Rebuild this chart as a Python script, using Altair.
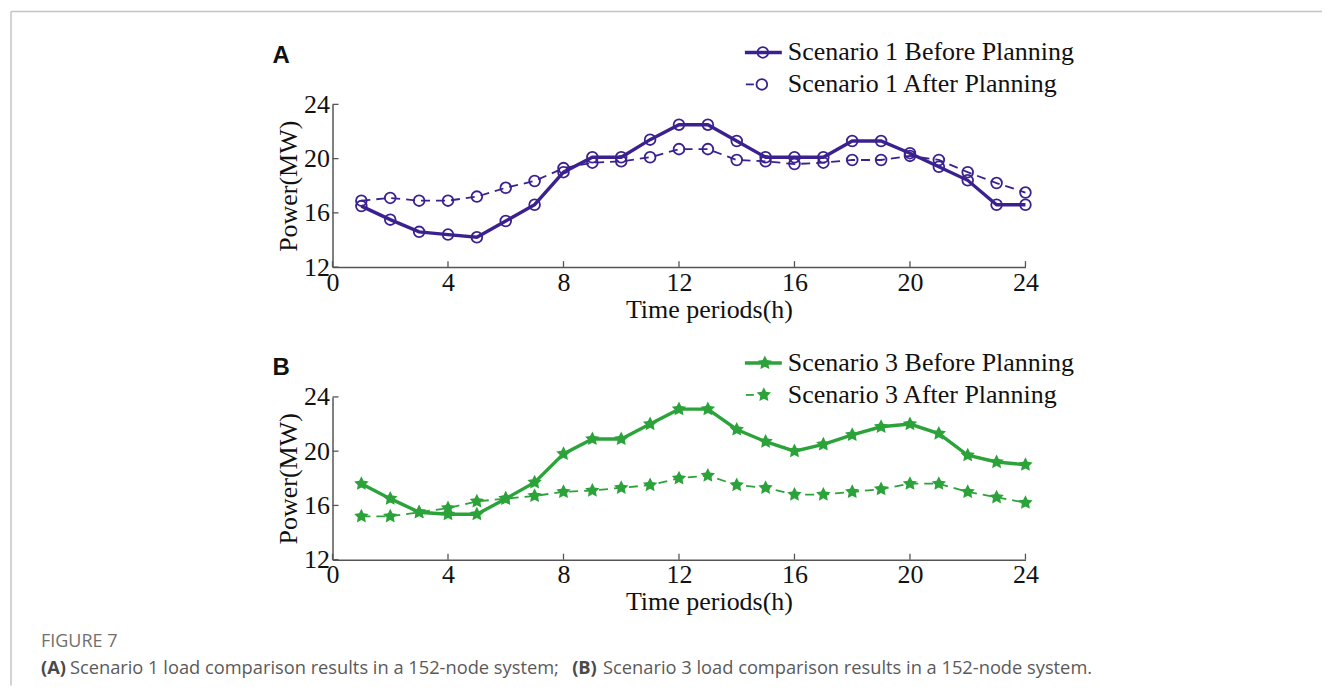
import math
import altair as alt
import pandas as pd

# ---------------- data ----------------
hours = list(range(1, 25))
a_before = [16.5, 15.5, 14.6, 14.4, 14.2, 15.4, 16.6, 19.0, 20.1, 20.1, 21.4, 22.5,
            22.5, 21.3, 20.1, 20.1, 20.1, 21.3, 21.3, 20.4, 19.4, 18.4, 16.6, 16.6]
a_after = [16.9, 17.1, 16.9, 16.9, 17.2, 17.85, 18.35, 19.3, 19.7, 19.8, 20.1, 20.7,
           20.7, 19.9, 19.8, 19.6, 19.7, 19.9, 19.9, 20.2, 19.9, 19.0, 18.2, 17.5]
b_before = [17.6, 16.5, 15.5, 15.35, 15.35, 16.5, 17.7, 19.8, 20.9, 20.9, 22.0, 23.1,
            23.1, 21.6, 20.7, 20.0, 20.5, 21.2, 21.8, 22.0, 21.3, 19.7, 19.2, 19.0]
b_after = [15.2, 15.2, 15.5, 15.8, 16.3, 16.5, 16.7, 17.0, 17.1, 17.3, 17.5, 18.0,
           18.2, 17.5, 17.3, 16.8, 16.8, 17.0, 17.2, 17.6, 17.6, 17.0, 16.6, 16.2]
names_a = ["Scenario 1 Before Planning", "Scenario 1 After Planning"]
names_b = ["Scenario 3 Before Planning", "Scenario 3 After Planning"]
x_ticks = [0, 4, 8, 12, 16, 20, 24]
y_ticks = [12, 16, 20, 24]
x_title = "Time periods(h)"
y_title = "Power(MW)"
panel_letters = ["A", "B"]
caption_title = "FIGURE 7"
caption_parts = ["(A)", "Scenario 1 load comparison results in a 152-node system;",
                 "(B)", "Scenario 3 load comparison results in a 152-node system."]

# ---------------- style / layout ----------------
PURPLE = "#3b2190"
GREEN = "#2ca33a"
SERIF = "Liberation Serif"
FS = 26
AX = "#555555"
W = 694          # plot width
PH = 163         # height of one panel
GAP = 130        # gap between the two panels
TOTAL_H = 2 * PH + GAP


def star_shape(inner=0.5):
    pts = []
    for i in range(10):
        ang = -math.pi / 2 + i * math.pi / 5
        r = 1.0 if i % 2 == 0 else inner
        pts.append(f"{r * math.cos(ang):.3f},{r * math.sin(ang):.3f}")
    return "M" + "L".join(pts) + "Z"


STAR = star_shape()


def series_df(vals):
    return pd.DataFrame({"hour": hours, "power": vals})


def txt_df(t):
    return pd.DataFrame({"t": [t]})


ONE = pd.DataFrame({"k": [0]})


def panel(before, after, names, color, point_mark, top, letter, letter_dy, leg_dy, sym_x):
    bottom = top + PH
    x_scale = alt.Scale(domain=[0, 24], nice=False, zero=False)
    y_scale = alt.Scale(domain=[12, 24], nice=False, zero=False, range=[bottom, top])
    x_axis = alt.Axis(
        values=x_ticks, title=x_title, grid=False, format="d", ticks=False, orient="bottom",
        offset=bottom - TOTAL_H,
        labelFont=SERIF, labelFontSize=FS, labelColor="#111", labelPadding=2,
        labelFlush=False, labelOverlap=False, domainColor=AX, domainWidth=1.5,
        titleFont=SERIF, titleFontSize=FS, titleFontWeight="normal", titleColor="#111",
        titleX=377, titleY=50, titleBaseline="alphabetic", titleAlign="center",
    )
    y_axis = alt.Axis(
        values=y_ticks, title=y_title, grid=False, format="d", ticks=False, orient="left",
        labelFont=SERIF, labelFontSize=FS, labelColor="#111", labelPadding=3,
        labelFlush=False, labelOverlap=False, domainColor=AX, domainWidth=1.5,
        titleFont=SERIF, titleFontSize=FS, titleFontWeight="normal", titleColor="#111",
        titleAngle=270, titleX=-36, titleY=(top + bottom) / 2, titleBaseline="alphabetic",
        titleAlign="center",
    )
    x = alt.X("hour:Q", scale=x_scale, axis=x_axis)
    y = alt.Y("power:Q", scale=y_scale, axis=y_axis)

    line_before = alt.Chart(series_df(before)).mark_line(color=color, strokeWidth=3.4).encode(x=x, y=y)
    line_after = alt.Chart(series_df(after)).mark_line(
        color=color, strokeWidth=1.8, strokeDash=[9, 6]).encode(x=x, y=y)
    pts = alt.Chart(pd.concat([series_df(before), series_df(after)])).mark_point(
        **point_mark).encode(x=x, y=y)

    # inward tick marks placed through the scales
    xt = alt.Chart(pd.DataFrame({"hour": x_ticks})).mark_rule(color=AX, strokeWidth=1.3).encode(
        x=x, y=alt.value(bottom), y2=alt.value(bottom - 6))
    yt = alt.Chart(pd.DataFrame({"power": y_ticks})).mark_rule(color=AX, strokeWidth=1.3).encode(
        y=y, x=alt.value(0), x2=alt.value(6))
    lab = alt.Chart(txt_df(letter)).mark_text(
        align="left", baseline="alphabetic", font="Liberation Sans", fontSize=24,
        fontWeight="bold", color="#111").encode(
        text="t:N", x=alt.value(-60), y=alt.value(top + letter_dy))

    # legend (two rows)
    r1, r2 = top + leg_dy, top + leg_dy + 32
    leg = [
        alt.Chart(ONE).mark_rule(color=color, strokeWidth=3.4).encode(
            x=alt.value(413), x2=alt.value(450), y=alt.value(r1)),
        alt.Chart(ONE).mark_rule(color=color, strokeWidth=1.8).encode(
            x=alt.value(414), x2=alt.value(422), y=alt.value(r2)),
        alt.Chart(ONE).mark_point(**point_mark).encode(x=alt.value(sym_x), y=alt.value(r1)),
        alt.Chart(ONE).mark_point(**point_mark).encode(x=alt.value(sym_x - 1), y=alt.value(r2)),
        alt.Chart(txt_df(names[0])).mark_text(
            align="left", baseline="middle", font=SERIF, fontSize=FS, color="#111").encode(
            text="t:N", x=alt.value(456), y=alt.value(r1)),
        alt.Chart(txt_df(names[1])).mark_text(
            align="left", baseline="middle", font=SERIF, fontSize=FS, color="#111").encode(
            text="t:N", x=alt.value(456), y=alt.value(r2)),
    ]
    return alt.layer(xt, yt, line_after, line_before, pts, lab, *leg)


border = [
    alt.Chart(ONE).mark_rule(color="#c4c4c4", strokeWidth=1.5).encode(
        x=alt.value(-322), x2=alt.value(991), y=alt.value(-93)),
    alt.Chart(ONE).mark_rule(color="#c4c4c4", strokeWidth=1.5).encode(
        x=alt.value(-322), y=alt.value(-93), y2=alt.value(582)),
]


def cap_text(txt, xpx, ypx, bold, col, size=18.3):
    return alt.Chart(txt_df(txt)).mark_text(
        align="left", baseline="alphabetic", font="Open Sans", fontSize=size,
        fontWeight="bold" if bold else "normal", color=col,
    ).encode(text="t:N", x=alt.value(xpx), y=alt.value(ypx))


caption = [
    cap_text(caption_title, -292, 543, False, "#707070", 18),
    cap_text(caption_parts[0], -292, 570, True, "#4a4a4a"),
    cap_text(caption_parts[1], 69 - 332, 570, False, "#5a5a5a"),
    cap_text(caption_parts[2], 572 - 332, 570, True, "#4a4a4a"),
    cap_text(caption_parts[3], 603 - 332, 570, False, "#5a5a5a"),
]

panel_a = panel(
    a_before, a_after, names_a, PURPLE,
    dict(shape="circle", filled=False, size=115, strokeWidth=1.8, color=PURPLE, opacity=1),
    0, panel_letters[0], -41, -52, 431,
)
panel_b = panel(
    b_before, b_after, names_b, GREEN,
    dict(shape=STAR, filled=True, size=230, color=GREEN, opacity=1),
    PH + GAP, panel_letters[1], -22, -34, 433,
)

chart = alt.layer(panel_a, panel_b, *border, *caption).resolve_scale(
    x="independent", y="independent"
).resolve_axis(x="independent", y="independent").properties(
    width=W, height=TOTAL_H,
    padding={"left": 2, "top": 2, "right": 0, "bottom": 0}, background="white",
).configure_view(stroke=None)

chart.save("out.html", embed_options={"renderer": "svg", "actions": False})
